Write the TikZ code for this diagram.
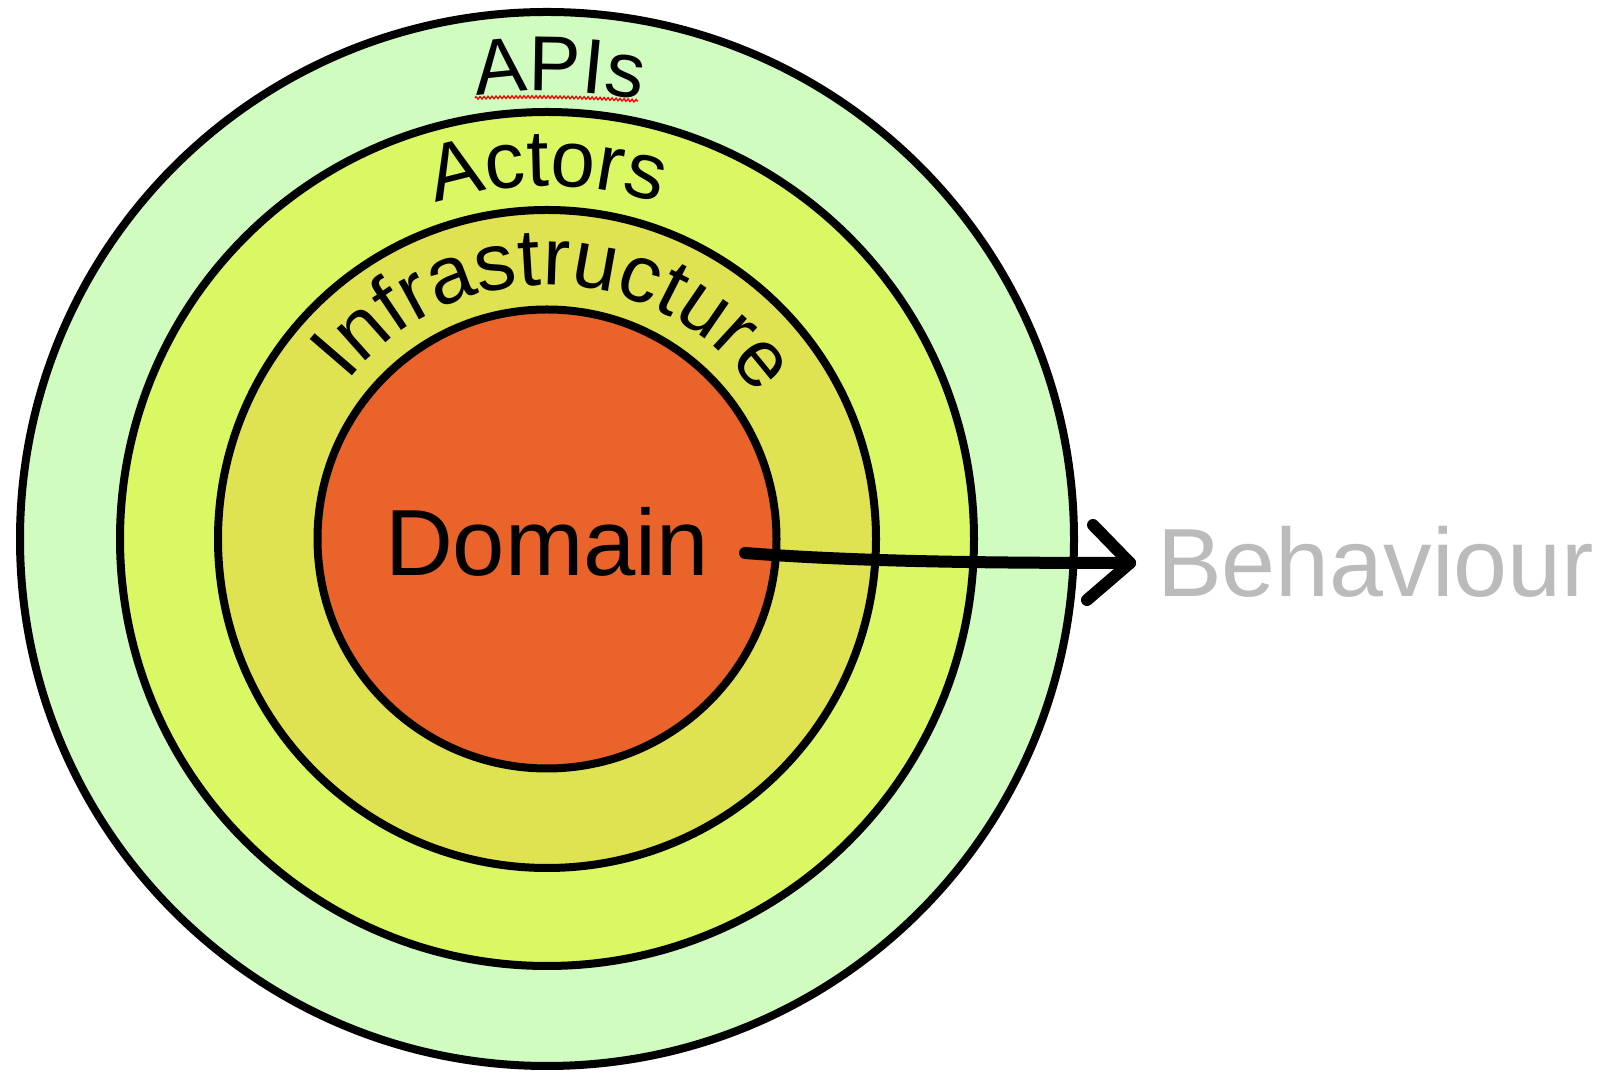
\documentclass[tikz,border=0pt]{standalone}
\usepackage{fontspec}
\setmainfont{Liberation Sans}
\usetikzlibrary{calc,decorations.text,decorations.pathmorphing}

\definecolor{apiGreen}{HTML}{D0FCC0}
\definecolor{actorLime}{HTML}{DAF764}
\definecolor{infraYellow}{HTML}{DFE351}
\definecolor{domainOrange}{HTML}{E9632B}
\definecolor{behaviourGrey}{HTML}{BBBBBB}

\begin{document}
\begin{tikzpicture}[x=1pt,y=1pt,
  ring/.style={circle, draw=black, line width=8pt, inner sep=0pt, outer sep=0pt},
  ringtext/.style={decorate, decoration={text along path, text align=center, text={#1}}},
  arrowline/.style={line width=12pt, line cap=round, line join=round}
]
\useasboundingbox (0,0) rectangle (1601,1073);
\coordinate (c) at (547,534);

% concentric layers
\node[ring, fill=apiGreen,     minimum size=1054pt] (apis)   at (c) {};
\node[ring, fill=actorLime,    minimum size=854pt]  (actors) at (c) {};
\node[ring, fill=infraYellow,  minimum size=658pt]  (infra)  at (c) {};
\node[ring, fill=domainOrange, minimum size=459pt]  (domain) at (c) {};

% layer names set along arcs
\path[ringtext={|\fontsize{78}{78}\selectfont|APIs}]
  ($(c)+(178.5:448)$) arc[start angle=178.5, end angle=-1.5, radius=448];
\path[ringtext={|\fontsize{80}{80}\selectfont|Actors}]
  ($(c)+(180:353)$) arc[start angle=180, end angle=0, radius=353];
\path[ringtext={|\fontsize{81}{81}\selectfont|Infrastructure}]
  ($(c)+(168:254)$) arc[start angle=168, end angle=8, radius=254];

% spell-check squiggle under APIs
\coordinate (sqA) at (475,975);
\coordinate (sqB) at (638,972);
\draw[red, line width=1.3pt, decorate, decoration={zigzag, segment length=4pt, amplitude=1.3pt}]
  (sqA) .. controls (530,977) and (590,976) .. (sqB);

% labels
\node[font=\fontsize{94}{94}\selectfont, inner sep=0pt, anchor=base] (domainText) at (547,497) {Domain};
\node[font=\fontsize{97}{97}\selectfont, inner sep=0pt, anchor=base west, text=behaviourGrey] (behaviour) at (1157,476) {Behaviour};

% arrow from the domain outwards
\coordinate (arrowStart) at (745,520);
\coordinate (arrowTip) at (1130,510);
\draw[arrowline] (arrowStart) .. controls (860,511) and (1000,510) .. (arrowTip);
\draw[arrowline] ($(arrowTip)+(-37,38)$) -- (arrowTip) -- ($(arrowTip)+(-43,-37)$);
\end{tikzpicture}
\end{document}
